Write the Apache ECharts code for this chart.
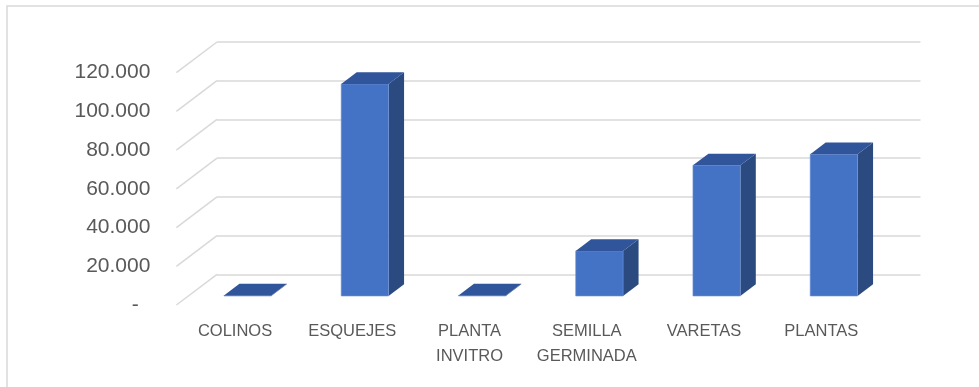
<!DOCTYPE html>
<html>
<head>
<meta charset="utf-8">
<script src="https://cdn.jsdelivr.net/npm/echarts@6/dist/echarts.min.js"></script>
<style>html,body{margin:0;padding:0;background:#fff;}#c{width:979px;height:387px;}</style>
</head>
<body>
<div id="c"></div>
<script>
const categories = ['COLINOS', 'ESQUEJES', 'PLANTA INVITRO', 'SEMILLA GERMINADA', 'VARETAS', 'PLANTAS'];
const values = [250, 109500, 300, 23250, 67500, 73200];
const yTicks = [0, 20000, 40000, 60000, 80000, 100000, 120000];

const FONT = 'Liberation Sans, Arial, sans-serif';
const TEXT = '#595959';
const GRID = '#d9d9d9';
// perspective offsets (pixels)
const FLOOR_DX = -40.6, FLOOR_DY = 30.7;
const BAR_DX = -28, BAR_DY = 21.7;
const DEPTH_DX = 15.5, DEPTH_DY = -11.7;

function fmt(v) {
  if (v === 0) return '-  ';
  return String(v).replace(/\B(?=(\d{3})+(?!\d))/g, '.');
}

const chart = echarts.init(document.getElementById('c'), null, {renderer: 'canvas'});
const option = {
  animation: false,
  backgroundColor: '#fff',
  graphic: [{
    type: 'rect', silent: true, z: -1,
    shape: {x: 7, y: 6, width: 1200, height: 1000},
    style: {fill: 'none', stroke: GRID, lineWidth: 1.5}
  }],
  grid: [
    {left: 217, top: 42, width: 703.5, height: 232.3},
    {left: 217 + FLOOR_DX, top: 42 + FLOOR_DY, width: 703.5, height: 232.3}
  ],
  xAxis: [
    {gridIndex: 0, type: 'category', data: categories, show: false},
    {gridIndex: 1, type: 'category', data: categories,
      axisLine: {show: false}, axisTick: {show: false},
      axisLabel: {interval: 0, color: TEXT, fontFamily: FONT, fontSize: 16.5, lineHeight: 25, margin: 14,
        formatter: s => s.replace(' ', '\n')}}
  ],
  yAxis: [
    {gridIndex: 0, type: 'value', min: 0, max: 120000, interval: 20000,
      axisLabel: {show: false}, axisLine: {show: false}, axisTick: {show: false},
      splitLine: {lineStyle: {color: GRID, width: 1.5}}},
    {gridIndex: 1, type: 'value', min: 0, max: 120000, interval: 20000,
      axisLine: {show: false}, axisTick: {show: false}, splitLine: {show: false},
      axisLabel: {color: TEXT, fontFamily: FONT, fontSize: 21, margin: 26, formatter: fmt}}
  ],
  series: [
    {
      type: 'custom', xAxisIndex: 0, yAxisIndex: 0, silent: true,
      data: yTicks.map(v => [0, v]),
      encode: {x: 0, y: 1},
      renderItem: function (params, api) {
        const cs = params.coordSys;
        const y = api.coord([0, api.value(1)])[1];
        return {
          type: 'line',
          shape: {x1: cs.x, y1: y, x2: cs.x + FLOOR_DX, y2: y + FLOOR_DY},
          style: {stroke: GRID, lineWidth: 1.5}
        };
      },
      clip: false, z: 1
    },
    {
      type: 'custom', xAxisIndex: 0, yAxisIndex: 0,
      data: values.map((v, i) => [i, v]),
      encode: {x: 0, y: 1},
      renderItem: function (params, api) {
        const i = api.value(0), v = api.value(1);
        const c = api.coord([i, v]);
        const c0 = api.coord([i, 0]);
        const bw = api.size([1, 0])[0] * 0.404;
        const fx = c[0] + BAR_DX - bw / 2;
        const fy0 = c0[1] + BAR_DY;
        const fyT = c[1] + BAR_DY;
        return {
          type: 'group',
          children: [
            {type: 'polygon', shape: {points: [[fx + bw, fyT], [fx + bw + DEPTH_DX, fyT + DEPTH_DY], [fx + bw + DEPTH_DX, fy0 + DEPTH_DY], [fx + bw, fy0]]},
              style: {fill: '#2B4A80'}},
            {type: 'rect', shape: {x: fx, y: fyT, width: bw, height: fy0 - fyT},
              style: {fill: '#4472C4', stroke: '#6F93D6', lineWidth: 0.6}},
            {type: 'polygon', shape: {points: [[fx, fyT], [fx + bw, fyT], [fx + bw + DEPTH_DX, fyT + DEPTH_DY], [fx + DEPTH_DX, fyT + DEPTH_DY]]},
              style: {fill: '#30559A'}}
          ]
        };
      },
      clip: false, z: 2
    }
  ]
};
chart.setOption(option);
</script>
</body>
</html>
